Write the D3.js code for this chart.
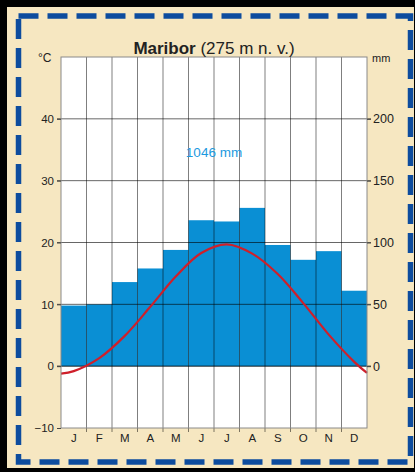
<!DOCTYPE html>
<html>
<head>
<meta charset="utf-8">
<script src="https://cdn.jsdelivr.net/npm/d3@7"></script>
<style>
  html, body { margin: 0; padding: 0; background: #000; }
  svg { display: block; }
  text { font-family: "Liberation Sans", Arial, Helvetica, sans-serif; fill: #222; }
</style>
</head>
<body>
<svg id="chart" width="415" height="472"></svg>
<script>
// ---- data ----
const months = ["J", "F", "M", "A", "M", "J", "J", "A", "S", "O", "N", "D"];
const precipitation = [49, 50, 68, 79, 94, 118, 117, 128, 98, 86, 93, 61]; // mm
const temperature = [-0.8, 1.3, 4.9, 9.6, 14.5, 18.3, 19.7, 18.2, 14.9, 10.2, 5.1, 0.7]; // °C
const edgeTemperature = [-1.2, -1.1]; // curve value at start / end of year
const tempTicks = [-10, 0, 10, 20, 30, 40];
const precipTicks = [0, 50, 100, 150, 200];
const titleBold = "Maribor";
const titleRest = " (275 m n. v.)";
const totalLabel = "1046 mm";

// ---- layout ----
const W = 415, H = 472;
const plot = { left: 61, right: 367, top: 57, bottom: 428 };
const svg = d3.select("#chart");

// frame
svg.append("rect").attr("x", 0).attr("y", 0).attr("width", W).attr("height", H).attr("fill", "#000");
svg.append("rect").attr("x", 7).attr("y", 7).attr("width", 407).attr("height", 461).attr("fill", "#f6e7c1");
svg.append("rect").attr("x", 18.5).attr("y", 16).attr("width", 392).attr("height", 446)
  .attr("fill", "none").attr("stroke", "#0d4c9e").attr("stroke-width", 5.5)
  .attr("stroke-dasharray", "20,9");

// scales
const idx = d3.range(months.length);
const x = d3.scaleBand().domain(idx).range([plot.left, plot.right]).paddingInner(0).paddingOuter(0);
const xLin = d3.scaleLinear().domain([0, 12]).range([plot.left, plot.right]);
const yT = d3.scaleLinear().domain([-10, 50]).range([plot.bottom, plot.top]);
const yP = d3.scaleLinear().domain([-50, 250]).range([plot.bottom, plot.top]);

// plot background
svg.append("rect").attr("x", plot.left).attr("y", plot.top)
  .attr("width", plot.right - plot.left).attr("height", plot.bottom - plot.top).attr("fill", "#fff");

// bars
svg.append("g").selectAll("rect").data(precipitation).join("rect")
  .attr("x", (d, i) => x(i))
  .attr("width", x.bandwidth())
  .attr("y", d => yP(d))
  .attr("height", d => yP(0) - yP(d))
  .attr("fill", "#0a8fd4");

// horizontal grid
svg.append("g").selectAll("line").data(tempTicks.filter(t => t > -10)).join("line")
  .attr("x1", plot.left - 4).attr("x2", plot.right + 4)
  .attr("y1", d => yT(d)).attr("y2", d => yT(d))
  .attr("stroke", "#000").attr("stroke-opacity", d => d === 0 ? 0.85 : 0.6).attr("stroke-width", 1);

// vertical grid (month boundaries)
svg.append("g").selectAll("line").data(d3.range(1, 12)).join("line")
  .attr("x1", d => xLin(d)).attr("x2", d => xLin(d))
  .attr("y1", plot.top).attr("y2", plot.bottom + 4)
  .attr("stroke", "#000").attr("stroke-opacity", 0.5).attr("stroke-width", 1);

// temperature curve
const curvePts = [[0, edgeTemperature[0]]]
  .concat(temperature.map((t, i) => [i + 0.5, t]))
  .concat([[12, edgeTemperature[1]]]);
const line = d3.line().x(d => xLin(d[0])).y(d => yT(d[1])).curve(d3.curveCatmullRom.alpha(0.5));
svg.append("path").attr("d", line(curvePts))
  .attr("fill", "none").attr("stroke", "#cf1f2a").attr("stroke-width", 2.2);

// plot border
svg.append("rect").attr("x", plot.left).attr("y", plot.top)
  .attr("width", plot.right - plot.left).attr("height", plot.bottom - plot.top)
  .attr("fill", "none").attr("stroke", "#8a8a8a").attr("stroke-width", 1);

// axes
const axL = svg.append("g").attr("transform", `translate(${plot.left},0)`)
  .call(d3.axisLeft(yT).tickValues(tempTicks).tickSize(4).tickPadding(3).tickFormat(d3.format("d")));
axL.select(".domain").remove();
axL.selectAll("line").attr("stroke", "#444");
axL.selectAll("text").attr("font-size", 11.5).attr("fill", "#222").attr("font-family", null);

const axR = svg.append("g").attr("transform", `translate(${plot.right},0)`)
  .call(d3.axisRight(yP).tickValues(precipTicks).tickSize(4).tickPadding(2).tickFormat(d3.format("d")));
axR.select(".domain").remove();
axR.selectAll("line").attr("stroke", "#444");
axR.selectAll("text").attr("font-size", 12.5).attr("fill", "#222").attr("font-family", null);

const axB = svg.append("g").attr("transform", `translate(0,${plot.bottom})`)
  .call(d3.axisBottom(x).tickSize(0).tickPadding(6).tickFormat(i => months[i]));
axB.select(".domain").remove();
axB.selectAll("text").attr("font-size", 11.5).attr("fill", "#222").attr("font-family", null);

// units
svg.append("text").attr("x", 38).attr("y", 62).attr("font-size", 12).text("°C");
svg.append("text").attr("x", 372).attr("y", 62).attr("font-size", 11).text("mm");

// title
const title = svg.append("text").attr("x", 214).attr("y", 54).attr("text-anchor", "middle").attr("font-size", 17);
title.append("tspan").attr("font-weight", "bold").text(titleBold);
title.append("tspan").text(titleRest);

// total precipitation
svg.append("text").attr("x", 214).attr("y", 157).attr("text-anchor", "middle")
  .attr("font-size", 13.5).style("fill", "#1b9ae0").text(totalLabel);
</script>
</body>
</html>
